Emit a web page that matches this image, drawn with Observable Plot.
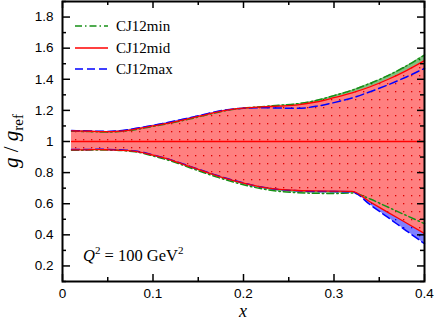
<!DOCTYPE html>
<html><head><meta charset="utf-8">
<script src="https://cdn.jsdelivr.net/npm/d3@7"></script>
<script src="https://cdn.jsdelivr.net/npm/@observablehq/plot@0.6"></script>
<style>body{margin:0;background:#fff} svg{display:block}</style>
</head><body><div id="chart"></div>
<script>
// ---- data ----
const xs        = [0.01,0.02,0.03,0.04,0.05,0.06,0.07,0.08,0.09,0.10,0.12,0.14,0.16,0.18,0.20,0.22,0.24,0.26,0.28,0.30,0.32,0.34,0.36,0.38,0.40];
const midCentral= [1,1,1,1,1,1,1,1,1,1,1,1,1,1,1,1,1,1,1,1,1,1,1,1,1];
const midUpper  = [1.068,1.067,1.066,1.064,1.063,1.065,1.070,1.079,1.089,1.100,1.122,1.147,1.175,1.200,1.214,1.222,1.228,1.236,1.254,1.282,1.313,1.352,1.400,1.456,1.520];
const midLower  = [0.946,0.946,0.947,0.948,0.947,0.945,0.942,0.937,0.927,0.912,0.880,0.840,0.800,0.763,0.732,0.707,0.692,0.685,0.682,0.681,0.679,0.611,0.543,0.476,0.408];
const minUpper  = [1.066,1.065,1.064,1.062,1.061,1.063,1.068,1.076,1.086,1.097,1.119,1.144,1.172,1.198,1.214,1.224,1.233,1.243,1.263,1.295,1.330,1.374,1.425,1.486,1.556];
const minLower  = [0.944,0.944,0.945,0.946,0.945,0.943,0.940,0.934,0.923,0.907,0.874,0.833,0.792,0.754,0.722,0.696,0.679,0.671,0.667,0.666,0.669,0.630,0.577,0.524,0.472];
const maxUpper  = [1.070,1.069,1.068,1.066,1.065,1.068,1.074,1.083,1.093,1.104,1.127,1.152,1.179,1.203,1.214,1.217,1.215,1.213,1.226,1.250,1.280,1.320,1.365,1.415,1.470];
const maxLower  = [0.948,0.948,0.949,0.950,0.949,0.947,0.944,0.939,0.929,0.914,0.882,0.842,0.802,0.765,0.733,0.707,0.691,0.683,0.679,0.678,0.676,0.593,0.510,0.426,0.343];

const seriesNames = ["CJ12min","CJ12mid","CJ12max"];
const xMajor = [0,0.1,0.2,0.3,0.4];
const xMajorLabels = ["0","0.1","0.2","0.3","0.4"];
const xMinor = [0.05,0.15,0.25,0.35];
const yMajor = [0.2,0.4,0.6,0.8,1,1.2,1.4,1.6,1.8];
const yMajorLabels = ["0.2","0.4","0.6","0.8","1","1.2","1.4","1.6","1.8"];
const yMinor = [0.1,0.3,0.5,0.7,0.9,1.1,1.3,1.5,1.7,1.9];
const q2Label = "100 GeV";

const rows = xs.map((x,i)=>({x, midCentral:midCentral[i], midUpper:midUpper[i], midLower:midLower[i],
  minUpper:minUpper[i], minLower:minLower[i], maxUpper:maxUpper[i], maxLower:maxLower[i]}));

const W = 436, H = 320, mL = 62, mR = 12, mT = 1, mB = 39;
const plotH = H - mT - mB, plotW = W - mL - mR;
const curve = "monotone-x";

const defsMark = () => {
  const defs = d3.create("svg:defs");
  const mk = (id, bg, dot) => {
    const p = defs.append("pattern").attr("id", id).attr("patternUnits","userSpaceOnUse")
      .attr("width",8).attr("height",8);
    p.append("rect").attr("width",8).attr("height",8).attr("fill",bg);
    p.append("rect").attr("x",3).attr("y",3).attr("width",1.3).attr("height",1.3).attr("fill",dot);
  };
  mk("dotsRed","#ff8080","#e00000");
  mk("dotsBlue","#8080ff","#0000e0");
  mk("dotsGreen","#80c080","#007000");
  return defs.node();
};

const fmtX = d => xMajorLabels[xMajor.indexOf(d)];
const fmtY = d => yMajorLabels[yMajor.indexOf(d)];

const plot = Plot.plot({
  width: W, height: H, marginLeft: mL, marginRight: mR, marginTop: mT, marginBottom: mB,
  style: {fontFamily: "'Liberation Sans', Arial, sans-serif", fontSize: "13.5px", color: "black", background: "white"},
  x: {domain: [0, 0.4]},
  y: {domain: [0.1, 1.9]},
  marks: [
    defsMark,
    Plot.areaY(rows, {x:"x", y1:"minLower", y2:"minUpper", fill:"url(#dotsGreen)", curve}),
    Plot.areaY(rows, {x:"x", y1:"maxLower", y2:"maxUpper", fill:"url(#dotsBlue)", curve}),
    Plot.areaY(rows, {x:"x", y1:"midLower", y2:"midUpper", fill:"url(#dotsRed)", curve}),
    Plot.lineY(rows, {x:"x", y:"minUpper", stroke:"#169016", strokeWidth:1.5, strokeDasharray:"7,3,1.5,3", curve}),
    Plot.lineY(rows, {x:"x", y:"minLower", stroke:"#169016", strokeWidth:1.5, strokeDasharray:"7,3,1.5,3", curve}),
    Plot.lineY(rows, {x:"x", y:"maxUpper", stroke:"#0000ff", strokeWidth:1.5, strokeDasharray:"8,4", curve}),
    Plot.lineY(rows, {x:"x", y:"maxLower", stroke:"#0000ff", strokeWidth:1.5, strokeDasharray:"8,4", curve}),
    Plot.lineY(rows, {x:"x", y:"midUpper", stroke:"#ff0000", strokeWidth:1.3, curve}),
    Plot.lineY(rows, {x:"x", y:"midLower", stroke:"#ff0000", strokeWidth:1.3, curve}),
    Plot.lineY(rows, {x:"x", y:"midCentral", stroke:"#ff0000", strokeWidth:1.3}),
    // inward ticks
    Plot.ruleX(xMajor, {x: d=>d, insetTop: plotH-7, stroke:"black", strokeWidth:1.5}),
    Plot.ruleX(xMajor, {x: d=>d, insetBottom: plotH-7, stroke:"black", strokeWidth:1.5}),
    Plot.ruleX(xMinor, {x: d=>d, insetTop: plotH-4, stroke:"black", strokeWidth:1.5}),
    Plot.ruleX(xMinor, {x: d=>d, insetBottom: plotH-4, stroke:"black", strokeWidth:1.5}),
    Plot.ruleY(yMajor, {y: d=>d, insetRight: plotW-8, stroke:"black", strokeWidth:1.5}),
    Plot.ruleY(yMajor, {y: d=>d, insetLeft: plotW-7, stroke:"black", strokeWidth:1.5}),
    Plot.ruleY(yMinor, {y: d=>d, insetRight: plotW-4, stroke:"black", strokeWidth:1.5}),
    Plot.ruleY(yMinor, {y: d=>d, insetLeft: plotW-4, stroke:"black", strokeWidth:1.5}),
    Plot.axisX({ticks: xMajor, tickSize: 0, tickPadding: 7, tickFormat: fmtX, label: null}),
    Plot.axisY({ticks: yMajor, tickSize: 0, tickPadding: 9, tickFormat: fmtY, label: null}),
    Plot.frame({stroke:"black", strokeWidth:2})
  ]
});

const svg = d3.select(plot);
const serif = "'Liberation Serif', 'Times New Roman', serif";
// legend
const legStyles = [
  {stroke:"#169016", dash:"7,3,1.5,3", y:26},
  {stroke:"#ff0000", dash:null, y:48},
  {stroke:"#0000ff", dash:"8,4", y:69}
];
const lg = svg.append("g").attr("text-anchor","start");
seriesNames.forEach((name,i)=>{
  const s = legStyles[i];
  lg.append("line").attr("x1",75).attr("x2",108).attr("y1",s.y).attr("y2",s.y)
    .attr("stroke",s.stroke).attr("stroke-width",1.5).attr("stroke-dasharray",s.dash);
  lg.append("text").attr("x",116).attr("y",s.y+5).attr("text-anchor","start").attr("font-family",serif).attr("font-size",15)
    .attr("fill","black").text(name);
});
// Q^2 annotation
const q = svg.append("text").attr("x",83).attr("y",261).attr("text-anchor","start").attr("font-family",serif).attr("font-size",16.5).attr("fill","black");
q.append("tspan").attr("font-style","italic").text("Q");
q.append("tspan").attr("dy",-7).attr("font-size",11).text("2");
q.append("tspan").attr("dy",7).text(" = " + q2Label);
q.append("tspan").attr("dy",-7).attr("font-size",11).text("2");
// x label
svg.append("text").attr("x",243).attr("y",317).attr("text-anchor","middle").attr("font-family",serif)
  .attr("font-style","italic").attr("font-size",18).attr("fill","black").text("x");
// y label
const yl = svg.append("text").attr("transform","translate(18,141) rotate(-90)").attr("text-anchor","middle")
  .attr("font-family",serif).attr("font-size",21).attr("fill","black");
yl.append("tspan").attr("font-style","italic").text("g");
yl.append("tspan").text(" / ");
yl.append("tspan").attr("font-style","italic").text("g");
yl.append("tspan").attr("dy",5).attr("font-size",15).text("ref");

document.getElementById("chart").appendChild(plot);
</script>
</body></html>
